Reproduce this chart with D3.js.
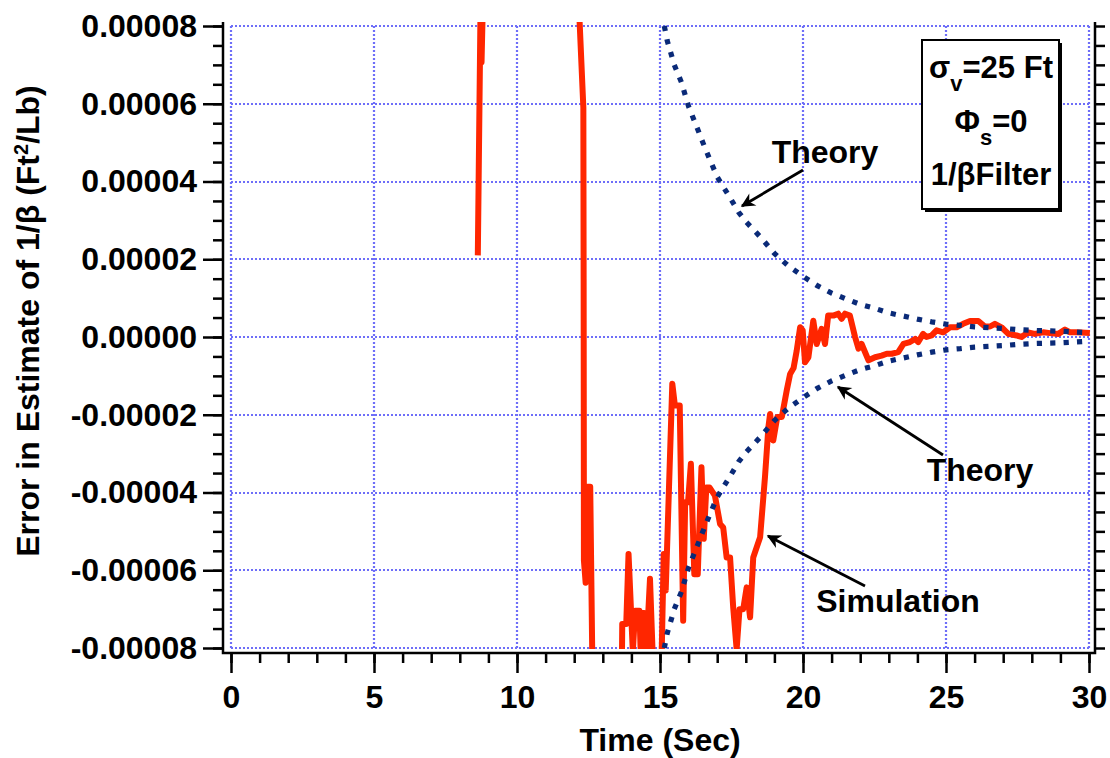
<!DOCTYPE html>
<html>
<head>
<meta charset="utf-8">
<script src="https://cdn.jsdelivr.net/npm/d3@7"></script>
<style>
  body { margin: 0; background: #fff; }
  svg { display: block; font-family: "Liberation Sans", Arial, Helvetica, sans-serif; font-weight: bold; }
</style>
</head>
<body>
<svg id="chart" width="1110" height="758"></svg>
<script>
// axis ticks
const xTicks = [0, 5, 10, 15, 20, 25, 30];
const yTicks = [-8e-5, -6e-5, -4e-5, -2e-5, 0, 2e-5, 4e-5, 6e-5, 8e-5];
const yTickLabels = ['-0.00008', '-0.00006', '-0.00004', '-0.00002', '0.00000',
  '0.00002', '0.00004', '0.00006', '0.00008'];

// values are in units of 1e-5
const UNIT = 1e-5;

// theory bounds
const theoryTime = [15.15, 15.25, 15.5, 15.75, 16, 16.25, 16.5, 16.75, 17, 17.25, 17.5, 17.75,
  18, 18.5, 19, 19.5, 20, 20.5, 21, 21.5, 22, 22.5, 23, 23.5, 24, 24.5, 25, 25.5, 26, 26.5,
  27, 27.5, 28, 28.5, 29, 29.5, 30];
const theoryUpper = [8.0, 7.63, 7.0, 6.55, 5.93, 5.47, 5.0, 4.55, 4.12, 3.82, 3.52, 3.21,
  2.97, 2.58, 2.15, 1.82, 1.56, 1.32, 1.13, 0.98, 0.84, 0.74, 0.62, 0.54, 0.46, 0.39, 0.33, 0.30,
  0.26, 0.24, 0.22, 0.19, 0.17, 0.16, 0.15, 0.13, 0.11];
const theoryLower = [-8.0, -7.63, -7.0, -6.55, -5.93, -5.47, -5.0, -4.55, -4.12, -3.82, -3.52, -3.21,
  -2.97, -2.58, -2.15, -1.82, -1.56, -1.32, -1.13, -0.98, -0.84, -0.74, -0.62, -0.54, -0.46, -0.39,
  -0.33, -0.30, -0.26, -0.24, -0.22, -0.19, -0.17, -0.16, -0.15, -0.13, -0.11];

// simulation (goes off scale in places, clipped to the plot)
const simTime = [8.63, 8.72, 8.76, 8.85, 10.5, 12.16, 12.32, 12.33, 12.34, 12.40, 12.47, 12.56,
  12.63, 12.7, 13.66, 13.68, 13.82, 13.90, 14.05, 14.13, 14.28, 14.32, 14.36, 14.45, 14.52, 14.65,
  14.75, 15.0, 15.06, 15.13, 15.20, 15.43, 15.52, 15.69, 15.81, 15.88, 15.98, 16.08, 16.20, 16.32,
  16.45, 16.53, 16.62, 16.73, 16.92, 17.10, 17.21, 17.33, 17.45, 17.56, 17.68, 17.78, 17.91, 18.03,
  18.15, 18.26, 18.50, 18.67, 18.79, 18.85, 18.96, 19.10, 19.26, 19.43, 19.55, 19.67, 19.78, 19.90,
  19.99, 20.07, 20.19, 20.36, 20.48, 20.65, 20.77, 20.88, 21.06, 21.23, 21.35, 21.47, 21.64, 21.82,
  21.94, 22.05, 22.29, 22.52, 22.75, 22.93, 23.10, 23.33, 23.51, 23.74, 23.92, 24.03, 24.20, 24.32,
  24.50, 24.67, 24.90, 25.14, 25.37, 25.60, 25.84, 26.13, 26.36, 26.54, 26.71, 26.94, 27.18, 27.47,
  27.64, 27.87, 28.10, 28.40, 28.64, 28.93, 29.16, 29.34, 29.57, 30.03];
const simValue = [2.10, 8.15, 7.07, 10.0, 14.0, 8.6, 5.9, 1.5, -5.75, -6.32, -3.85, -3.85,
  -8.1, -9.0, -9.0, -7.38, -7.38, -5.58, -8.1, -7.04, -7.04, -8.0, -7.1, -7.1, -8.1, -6.22,
  -8.3, -8.3, -8.1, -5.58, -6.52, -1.2, -1.76, -1.76, -7.3, -4.25, -4.25, -3.26, -6.1, -6.1,
  -3.35, -5.19, -3.87, -3.87, -4.08, -4.81, -4.9, -5.67, -5.67, -6.96, -8.03, -7.0, -7.0, -6.44,
  -7.21, -5.67, -5.15, -3.61, -2.32, -1.98, -2.66, -2.06, -2.06, -1.38, -0.95, -0.8, -0.35, 0.25,
  0.17, -0.65, -0.52, 0.42, -0.18, 0.21, -0.18, 0.55, 0.55, 0.6, 0.47, 0.6, 0.55, 0.0,
  -0.3, -0.18, -0.6, -0.52, -0.48, -0.43, -0.43, -0.39, -0.18, -0.13, -0.05, -0.13, 0.08, 0.0,
  0.04, 0.17, 0.12, 0.25, 0.25, 0.34, 0.41, 0.41, 0.27, 0.27, 0.34, 0.25, 0.08, 0.04,
  0.0, 0.12, 0.08, 0.12, 0.10, 0.08, 0.19, 0.12, 0.12, 0.10];

const svg = d3.select('#chart');
const x = d3.scaleLinear().domain([0, 30]).range([231, 1089]);
const y = d3.scaleLinear().domain([-8e-5, 8e-5]).range([648, 26]);

const axisLeftX = 223;
const axisRightX = 1095;
const axisBottomY = 653;
const axisTopY = 22;

const defs = svg.append('defs');

// clip for the data
defs.append('clipPath').attr('id', 'plotClip')
  .append('rect')
  .attr('x', axisLeftX + 1).attr('y', axisTopY)
  .attr('width', axisRightX - axisLeftX - 2).attr('height', y(-8e-5) + 1 - axisTopY);

// grid
const grid = svg.append('g')
  .attr('stroke', '#6e6ef8')
  .attr('stroke-width', 2.2)
  .attr('stroke-dasharray', '2,2');
grid.selectAll('.vg').data(xTicks).join('line')
  .attr('class', 'vg')
  .attr('x1', d => Math.round(x(d))).attr('x2', d => Math.round(x(d)))
  .attr('y1', y(8e-5)).attr('y2', y(-8e-5));
grid.selectAll('.hg').data(yTicks).join('line')
  .attr('class', 'hg')
  .attr('x1', x(0)).attr('x2', x(30))
  .attr('y1', d => Math.round(y(d))).attr('y2', d => Math.round(y(d)));

// simulation line
const plot = svg.append('g').attr('clip-path', 'url(#plotClip)');
const simLine = d3.line().x((d, i) => x(simTime[i])).y(d => y(d * UNIT));
plot.append('path')
  .datum(simValue)
  .attr('fill', 'none')
  .attr('stroke', '#ff2600')
  .attr('stroke-width', 6)
  .attr('stroke-linejoin', 'round')
  .attr('d', simLine);

// theory curves (dotted)
const theoryLine = d3.line().x((d, i) => x(theoryTime[i])).y(d => y(d * UNIT));
[theoryUpper, theoryLower].forEach((series) => {
  plot.append('path')
    .datum(series)
    .attr('fill', 'none')
    .attr('stroke', '#0a2a78')
    .attr('stroke-width', 5.2)
    .attr('stroke-dasharray', '5.2,8.2')
    .attr('d', theoryLine);
});

// axes
const yMinor = d3.range(-8e-5, 8.01e-5, 5e-6);
const xMinor = d3.range(0, 30.01, 1);

const styleAxis = (g) => {
  g.select('.domain').remove();
  g.selectAll('.tick line').attr('stroke', '#000').attr('stroke-width', 2.5);
  g.selectAll('.tick text')
    .attr('fill', '#000')
    .style('font-size', '32px')
    .style('font-weight', 'bold')
    .style('font-family', '"Liberation Sans", Arial, sans-serif');
};

svg.append('g').attr('transform', `translate(${axisLeftX},0)`)
  .call(d3.axisLeft(y).tickValues(yMinor).tickSize(10).tickFormat(''))
  .call(styleAxis);
svg.append('g').attr('transform', `translate(${axisLeftX},0)`)
  .call(d3.axisLeft(y).tickValues(yTicks).tickSize(20).tickPadding(6)
    .tickFormat((d, i) => yTickLabels[i]))
  .call(styleAxis);

svg.append('g').attr('transform', `translate(${axisRightX},0)`)
  .call(d3.axisRight(y).tickValues(yMinor).tickSize(10).tickFormat(''))
  .call(styleAxis);

svg.append('g').attr('transform', `translate(0,${axisBottomY})`)
  .call(d3.axisBottom(x).tickValues(xMinor).tickSize(10).tickFormat(''))
  .call(styleAxis);
svg.append('g').attr('transform', `translate(0,${axisBottomY})`)
  .call(d3.axisBottom(x).tickValues(xTicks).tickSize(20).tickPadding(12).tickFormat(d3.format('d')))
  .call(styleAxis);

// frame lines (left, bottom, right)
svg.append('path')
  .attr('fill', 'none').attr('stroke', '#000').attr('stroke-width', 2.5)
  .attr('d', `M${axisLeftX},${axisTopY}V${axisBottomY}H${axisRightX}V${axisTopY}`);

// axis titles
svg.append('text')
  .attr('x', 660)
  .attr('y', 751)
  .attr('text-anchor', 'middle')
  .style('font-size', '32px')
  .text('Time (Sec)');

svg.append('text')
  .attr('transform', 'translate(39,321) rotate(-90)')
  .attr('text-anchor', 'middle')
  .style('font-size', '32px')
  .html('Error in Estimate of 1/β (Ft<tspan dy="-11" font-size="20">2</tspan><tspan dy="11">/Lb)</tspan>');

// legend box
const box = { x: 922, y: 40, w: 137, h: 169 };
svg.append('rect')
  .attr('x', box.x + 3).attr('y', box.y + 3).attr('width', box.w).attr('height', box.h)
  .attr('fill', '#000');
svg.append('rect')
  .attr('x', box.x).attr('y', box.y).attr('width', box.w).attr('height', box.h)
  .attr('fill', '#fff').attr('stroke', '#000').attr('stroke-width', 2);

const boxCx = box.x + box.w / 2 + 0.5;
const legend = svg.append('g').attr('text-anchor', 'middle').style('font-size', '31px');
legend.append('text').attr('x', boxCx).attr('y', 78)
  .html('σ<tspan dy="13" font-size="22">v</tspan><tspan dy="-13">=25 Ft</tspan>');
legend.append('text').attr('x', boxCx).attr('y', 132)
  .html('Φ<tspan dy="13" font-size="22">s</tspan><tspan dy="-13">=0</tspan>');
legend.append('text').attr('x', boxCx).attr('y', 185)
  .text('1/βFilter');

// annotations with arrows
defs.append('marker')
  .attr('id', 'arrowHead')
  .attr('viewBox', '0 0 10 10')
  .attr('refX', 9).attr('refY', 5)
  .attr('markerUnits', 'userSpaceOnUse')
  .attr('markerWidth', 20).attr('markerHeight', 14)
  .attr('orient', 'auto')
  .append('path').attr('d', 'M10,5L0,0L3,5L0,10Z').attr('fill', '#000');

const notes = [
  { text: 'Theory', tx: 825, ty: 163, from: [803, 170], to: [742, 206] },
  { text: 'Theory', tx: 980, ty: 481, from: [943, 455], to: [838, 387] },
  { text: 'Simulation', tx: 898, ty: 612, from: [865, 586], to: [768, 536] }
];
notes.forEach((n) => {
  svg.append('line')
    .attr('x1', n.from[0]).attr('y1', n.from[1])
    .attr('x2', n.to[0]).attr('y2', n.to[1])
    .attr('stroke', '#000').attr('stroke-width', 2.8)
    .attr('marker-end', 'url(#arrowHead)');
  svg.append('text')
    .attr('x', n.tx).attr('y', n.ty)
    .attr('text-anchor', 'middle')
    .style('font-size', '32px')
    .text(n.text);
});
</script>
</body>
</html>
